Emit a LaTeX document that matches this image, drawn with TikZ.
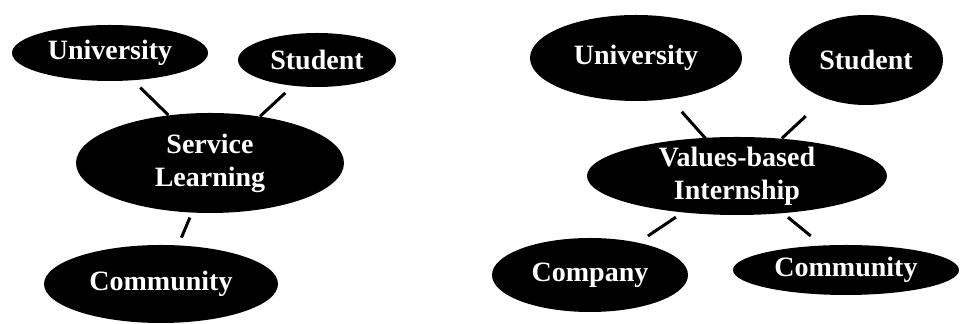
\documentclass[tikz,border=0pt]{standalone}
\usepackage{fontspec}
\setmainfont{Liberation Serif}
\usetikzlibrary{shapes.geometric}
\tikzstyle{bubble} = [ellipse, fill=black, text=white, inner sep=0pt, align=center, font=\bfseries\fontsize{14}{16.5}\selectfont]
\tikzstyle{link} = [line width=1.5pt]

\begin{document}
\begin{tikzpicture}[x=0.5pt, y=-0.5pt]
					\useasboundingbox (0,0) rectangle (960,324);
					% service learning
					\node (lServ) [bubble, minimum width=134pt, minimum height=50pt] at (210,163) {Service\\Learning};
					\node (lUniv) [bubble, minimum width=98pt, minimum height=28pt] at (110,53) {University};
					\node (lStud) [bubble, minimum width=79pt, minimum height=27pt] at (317,60) {Student};
					\node (lComm) [bubble, minimum width=117pt, minimum height=39pt] at (161,284) {Community};
					% values-based internship
					\node (rVal) [bubble, minimum width=150pt, minimum height=39pt, inner ysep=-1.5pt] at (737,176) {Values-based\\Internship};
					\node (rUniv) [bubble, minimum width=106pt, minimum height=43pt] at (636,58) {University};
					\node (rStud) [bubble, minimum width=77pt, minimum height=45pt] at (866,60) {Student};
					\node (rComp) [bubble, minimum width=98pt, minimum height=37pt] at (590,275) {Company};
					\node (rComm) [bubble, minimum width=113pt, minimum height=25pt] at (846,270) {Community};
					\draw [link, shorten <=5pt] (lUniv.310)--(lServ.131);
					\draw [link, shorten <=5pt] (lStud.227)--(lServ.43);
					\draw [link, shorten <=4pt, shorten >=2.5pt] (lComm.66)--(lServ.250);
					\draw [link, shorten <=8.5pt, shorten >=-1.5pt] (rUniv.310)--(rVal.130);
					\draw [link, shorten <=13pt] (rStud.223)--(rVal.40);
					\draw [link, shorten <=5.8pt, shorten >=4pt] (rComp.34)--(rVal.214);
					\draw [link, shorten <=7.3pt, shorten >=3pt] (rComm.134)--(rVal.321);
				\end{tikzpicture}
\end{document}
